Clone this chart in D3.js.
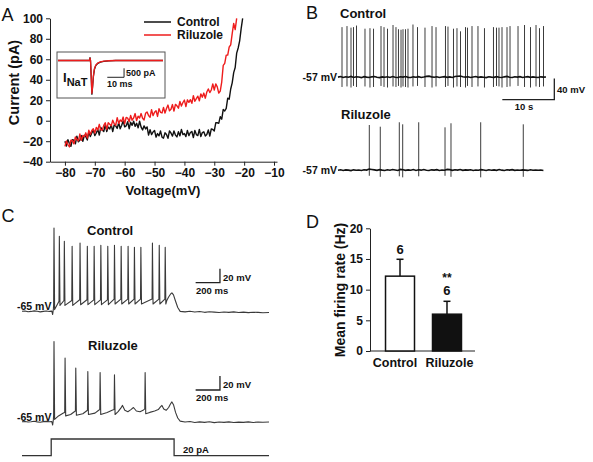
<!DOCTYPE html>
<html><head><meta charset="utf-8">
<script src="https://cdn.jsdelivr.net/npm/d3@7"></script>
<style>
html,body{margin:0;padding:0;background:#fff;}
svg{display:block;}
</style></head><body>
<svg id="fig" width="593" height="462"></svg>
<script>
// ================= Panel A : I-V ramp currents =================
const ivVoltage = [-80,-79.5,-79,-78.5,-78,-77.5,-77,-76.5,-76,-75.5,-75,-74.5,-74,-73.5,-73,-72.5,-72,-71.5,-71,-70.5,
-70,-69.5,-69,-68.5,-68,-67.5,-67,-66.5,-66,-65.5,-65,-64.5,-64,-63.5,-63,-62.5,-62,-61.5,-61,-60.5,
-60,-59.5,-59,-58.5,-58,-57.5,-57,-56.5,-56,-55.5,-55,-54.5,-54,-53.5,-53,-52.5,-52,-51.5,-51,-50.5,
-50,-49.5,-49,-48.5,-48,-47.5,-47,-46.5,-46,-45.5,-45,-44.5,-44,-43.5,-43,-42.5,-42,-41.5,-41,-40.5,
-40,-39.5,-39,-38.5,-38,-37.5,-37,-36.5,-36,-35.5,-35,-34.5,-34,-33.5,-33,-32.5,-32,-31.5,-31,-30.5,
-30,-29.5,-29,-28.5,-28,-27.5,-27,-26.5,-26,-25.5,-25,-24.5,-24,-23.5,-23,-22.5,-22,-21.5,-21,-20.5];
const ivControl = [-20,-24.8,-18.5,-22.2,-25,-18.5,-19,-22.5,-15,-20.5,
-19,-14.5,-20,-14.2,-15.5,-18.8,-11,-15.5,-12,-9.2,
-14.5,-12,-8.5,-14,-6.5,-9,-10.5,-4,-10.5,-6.2,
-8,-3.8,-10.5,-4.2,-5,-7.5,-2,-7.8,-4.5,-0.2,
-6,-5,-1,-7.8,-1.5,-4.5,-0.5,-5.5,-2.5,-7,
-0.5,-6.2,-9,-5,-8,-6,-14,-8.8,-13.5,-11,
-9.5,-16,-12.5,-14.8,-10,-16,-17,-11.8,-13.5,-17.2,
-10,-12,-15,-10,-14,-15.8,-10.8,-14.8,-8.5,-13.5,
-12.5,-15.5,-9.5,-14.5,-11.5,-10.5,-16.5,-9.5,-13.5,-14.5,
-8.5,-15.5,-11.5,-10.8,-15,-13.5,-9,-15,-8,-8.5,
-10,-2,-2,-2.5,4,1.5,11,9.5,12,22,
21,31,37,47,52,66,71,78,90,100];
const ivRiluzole = [-25,-19.7,-23.2,-25.6,-19,-19.3,-22.6,-15.9,-18.2,-19.6,
-13,-19.2,-14.4,-15.6,-11.8,-17,-9.2,-13.4,-9.6,-7.8,
-12,-6.5,-9,-3.5,-8.8,-9.2,-4.6,-2,-8.5,-2,
-3.5,-5,0.5,-3,-4.5,3,-2.6,0.8,-0.8,3.6,
-3,3.3,2.6,-1.1,5.2,0.5,2.7,7,0.2,4.4,
2.6,7,2.4,0.8,7.2,8.6,5,3.4,10.8,5,
8.3,9.8,4.2,11.7,8.2,7.6,13,7.5,12,15.3,
9.6,11.2,15.8,9.4,16,14.6,12.2,18.8,14.4,17.8,
20.2,13.8,20.4,18,20.6,17,24.5,19,21.5,24,
19.5,26.2,23,27,22,28,31,27.5,30,36,
30,36,33,27,29,38,54,56,64,64,
72,74,85,95,89,100,null,null,null,null];
const ivXTicks = [-80,-70,-60,-50,-40,-30,-20,-10];
const ivYTicks = [-40,-20,0,20,40,60,80,100];
const ivSeries = ["Control","Riluzole"];
// inset: transient Na current
const insetTime = [0,18.6,18.9,19.2,19.6,20.0,20.4,20.9,21.5,22.3,23.5,25,27,30,34,62];
const insetControl = [0,0,180,0,-900,-1900,-1500,-900,-500,-280,-160,-90,-50,-20,0,0];
const insetRiluzole = [0,0,150,0,-850,-1850,-1450,-850,-460,-250,-140,-80,-40,-15,0,0];

// ================= Panel B : spontaneous firing =================
const bStep = 0.5; // s between baseline samples
const bControlBaseline = [-57.2,-56.1,-57.8,-56.6,-57.4,-55.9,-57.9,-56.5,-57.1,-58.2,
-56.4,-57.3,-57.9,-56.7,-56.1,-57.6,-58.1,-56.8,-57.4,-56.5,
-57.8,-56.2,-57.5,-58.0,-56.6,-57.2,-56.0,-57.7,-57.9,-56.7,
-57.4,-56.4,-57.8,-56.9,-55.8,-55.4,-56.7,-57.5,-56.5,-57.9,
-57.0,-56.3,-57.7,-56.8,-57.9,-56.1,-55.6,-55.2,-56.4,-57.3,
-56.5,-57.8,-57.0,-56.2,-57.6,-56.8,-57.5,-58.1,-56.5,-57.3,
-57.7,-56.3,-57.4,-58.0,-56.7,-55.9,-57.5,-57.9,-56.6,-57.2,
-56.3,-57.8,-57.0,-56.4,-57.6,-56.8,-57.4,-58.0,-56.7,-57.3,-57.1];
const bRiluzoleBaseline = [-57.4,-56.6,-57.9,-56.8,-57.3,-58.1,-56.7,-57.5,-56.9,-57.8,
-56.5,-57.2,-55.3,-55.9,-56.8,-57.6,-56.4,-57.3,-58.0,-56.6,
-57.5,-56.2,-57.1,-57.9,-55.9,-56.5,-57.7,-56.8,-57.4,-56.1,
-57.8,-56.6,-57.3,-56.0,-57.5,-58.0,-56.7,-57.2,-56.4,-57.9,
-56.9,-57.4,-55.8,-56.3,-57.6,-56.5,-57.2,-56.0,-57.7,-56.8,
-57.3,-56.6,-57.9,-56.9,-57.5,-56.3,-57.1,-57.8,-56.5,-57.4,
-56.8,-57.6,-56.2,-57.3,-57.9,-56.6,-57.2,-56.4,-57.7,-56.9,
-57.5,-56.7,-57.3,-57.8,-56.5,-57.4,-56.9,-57.6,-57.1,-57.8];
const bControlSpikeTimes = [0.77,1.73,2.50,2.98,3.56,5.19,6.15,6.83,8.27,8.85,9.52,10.58,11.15,11.63,12.12,12.50,12.98,13.46,14.42,15.29,16.73,18.08,18.85,20.67,21.15,22.21,22.88,23.56,24.52,24.90,25.77,26.92,28.17,29.90,30.48,30.96,31.54,32.50,33.08,34.62,35.87,37.02,38.08,38.75,39.52];
const bControlSpikePeaks = [38,40,37,38,41,35,36,35,40,38,35,42,38,34,33,34,34,35,43,38,37,40,38,40,39,35,36,30,38,37,40,40,36,38,37,37,38,38,40,40,42,38,42,36,40];
const bControlSpikeTroughs = [-76,-75,-77,-74,-76,-75,-77,-76,-74,-76,-77,-75,-76,-74,-77,-75,-76,-77,-75,-74,-76,-77,-75,-76,-74,-77,-75,-76,-77,-74,-76,-75,-77,-76,-74,-75,-77,-76,-75,-74,-76,-77,-75,-76,-75];
const bRiluzoleSpikeTimes = [6.02,8.13,11.79,12.44,15.52,20.58,21.73,27.44,35.63];
const bRiluzoleSpikePeaks = [28.7,25.5,33.9,30,33.9,24.3,32,33.9,30];
const bRiluzoleSpikeTroughs = [-68,-70,-69,-71,-69,-68,-70,-71,-70];

// ================= Panel C : evoked firing (20 pA step) =================
const cCtrlRestT = [0,25,50,75,100,125,150,175,200,225,245,252,258,1190,1205,1220,1232,1245,1260,1280,1300,1340,1380,1420,1460,1500,1540,1580,1620,1660,1700,1740,1780,1820,1860,1900,1940,1980,2030];
const cCtrlRestV = [-65.4,-65.0,-66.1,-65.6,-64.8,-65.3,-66.2,-65.5,-64.9,-65.6,-65.2,-70,-62,-50,-45,-41,-39,-42,-50,-60,-65.5,-66.2,-65.4,-66.5,-65.8,-66.9,-66.1,-66.6,-67.2,-66.4,-66.9,-66.2,-67.1,-66.6,-67.3,-66.8,-67.0,-67.4,-67.1];
const cCtrlSpikeT = [263,307,348,412,477,537,593,648,705,760,815,872,924,977,1072,1128,1177];
const cCtrlSpikePeak = [53.6,41.7,34.6,27.4,32,27.4,27.4,28.9,27.4,28.9,27.4,27.4,26,26,32,28.9,26];
const cCtrlSpikeThr = [-56,-51,-50,-50,-49,-49,-49,-49,-49,-48,-48,-48,-48,-48,-48,-48,-48];
const cCtrlSpikeAhp = [-63,-57,-57,-57,-56,-56,-56,-56,-56,-55,-55,-55,-55,-55,-55,-55,-55];
const cRilRestT = [0,25,50,75,100,125,150,175,200,225,245,252,258,300,340,400,430,500,530,600,630,700,740,790,812,826,845,870,895,916,940,970,995,1050,1090,1120,1138,1150,1165,1185,1205,1220,1232,1245,1262,1280,1300,1340,1380,1420,1460,1500,1540,1580,1620,1660,1700,1740,1780,1820,1860,1900,1940,1980,2030];
const cRilRestV = [-65.3,-64.9,-65.8,-65.4,-64.7,-65.5,-66.0,-65.2,-64.8,-65.4,-65.1,-70,-62,-57,-53,-55,-51,-54,-50,-53,-49,-52,-49,-51,-46,-42,-49,-51,-48,-45,-50,-51,-49,-52,-50,-48,-44,-42,-47,-49,-45,-40,-37,-41,-52,-60,-64.5,-65.8,-65.1,-66.4,-65.5,-66.2,-65.3,-66.6,-65.7,-66.3,-65.6,-66.5,-65.9,-66.2,-65.5,-66.4,-65.8,-66.1,-65.7];
const cRilSpikeT = [263,354,442,541,642,760,1012];
const cRilSpikePeak = [49.3,25.6,11.3,6.4,5,1.7,5];
const cRilSpikeThr = [-56,-52,-50,-49,-48,-48,-47];
const cRilSpikeAhp = [-62,-57,-56,-55,-55,-55,-54];
const cStepT = [0,240,240,1250,1250,2030];
const cStepI = [0,0,20,20,0,0];

// ================= Panel D : mean firing rate =================
const dCategories = ["Control","Riluzole"];
const dMeans = [12.2, 6.0];
const dErrors = [2.75, 2.1];
const dN = ["6","6"];
const dSig = ["","**"];
const dYTicks = [0,5,10,15,20];

// ------------------------------------------------------------
const FONT = '"Liberation Sans", Arial, Helvetica, sans-serif';
const svg = d3.select("#fig").attr("font-family", FONT);
function label(g, x, y, s, size, opts = {}) {
  return g.append("text").attr("x", x).attr("y", y).text(s)
    .attr("font-size", size).attr("font-weight", opts.weight || "bold")
    .attr("text-anchor", opts.anchor || "start").attr("fill", opts.fill || "#111");
}
function styleAxis(ax, size) {
  ax.select(".domain").attr("stroke", "#222").attr("stroke-width", 1);
  ax.selectAll(".tick line").attr("stroke", "#222");
  ax.selectAll(".tick text").attr("font-size", size).attr("font-weight", "bold")
    .attr("font-family", FONT).attr("fill", "#111");
}

// ---------- Panel A ----------
const gA = svg.append("g");
label(gA, 1.5, 20.7, "A", 18, {weight: "normal"});
const xA = d3.scaleLinear().domain([-85, -9]).range([50, 277]);
const yA = d3.scaleLinear().domain([-40, 100]).range([161.7, 18.3]);
const axAx = gA.append("g").attr("transform", `translate(0,${yA(-40)})`)
  .call(d3.axisBottom(xA).tickValues(ivXTicks).tickSize(4).tickPadding(3).tickSizeOuter(0));
styleAxis(axAx, 12);
const axAy = gA.append("g").attr("transform", `translate(${xA.range()[0]},0)`)
  .call(d3.axisLeft(yA).tickValues(ivYTicks).tickSize(4).tickPadding(3).tickSizeOuter(0));
styleAxis(axAy, 12);
label(gA, 163, 195, "Voltage(mV)", 13, {anchor: "middle"});
label(gA, 0, 0, "Current (pA)", 14.5, {anchor: "middle"}).attr("transform", "translate(18.5,82.5) rotate(-90)");
const lineA = d3.line().defined(d => d[1] != null).x(d => xA(d[0])).y(d => yA(d[1]));
const ivColors = ["#111", "#ee1c1c"];
[ivControl, ivRiluzole].forEach((vals, k) => {
  gA.append("path").datum(ivVoltage.map((v, i) => [v, vals[i]]))
    .attr("d", lineA).attr("fill", "none").attr("stroke", ivColors[k])
    .attr("stroke-width", 1.4).attr("stroke-linejoin", "round");
});
// legend
ivSeries.forEach((s, k) => {
  const y = 22 + k * 13;
  gA.append("line").attr("x1", 144).attr("x2", 171).attr("y1", y).attr("y2", y)
    .attr("stroke", ivColors[k]).attr("stroke-width", 1.5);
  label(gA, 177, y + 4.3, s, 12);
});
// inset
gA.append("rect").attr("x", 57).attr("y", 52).attr("width", 108).attr("height", 46)
  .attr("fill", "#fff").attr("stroke", "#555").attr("stroke-width", 1);
const xIn = d3.scaleLinear().domain([0, 62]).range([58, 163]);
const yIn = d3.scaleLinear().domain([-2000, 0]).range([60.5 + 36, 60.5]);
const lineIn = d3.line().x(d => xIn(d[0])).y(d => yIn(d[1]));
[insetControl, insetRiluzole].forEach((vals, k) => {
  gA.append("path").datum(insetTime.map((t, i) => [t, vals[i]]))
    .attr("d", lineIn).attr("fill", "none").attr("stroke", ivColors[k]).attr("stroke-width", 1.3);
});
gA.append("path").attr("d", `M${xIn(29.1)},${yIn(-933)}H${xIn(39)}V${yIn(-433)}`)
  .attr("fill", "none").attr("stroke", "#222").attr("stroke-width", 1);
label(gA, 126, 76, "500 pA", 9);
label(gA, 107, 86.5, "10 ms", 9);
const tI = label(gA, 63, 81.5, "I", 13);
tI.append("tspan").attr("dy", 4).attr("font-size", 11).text("NaT");

// ---------- Panel B ----------
const gB = svg.append("g");
label(gB, 306, 18.5, "B", 18, {weight: "normal"});
const xB = d3.scaleLinear().domain([0, 40]).range([338, 546]);
const yBc = d3.scaleLinear().domain([-57, 43]).range([77, 24.5]);
const yBr = d3.scaleLinear().domain([-57, 43]).range([170, 117.5]);
function drawB(baseline, times, peaks, troughs, yS) {
  gB.append("g").selectAll("line").data(times).join("line")
    .attr("x1", d => xB(d)).attr("x2", d => xB(d))
    .attr("y1", (d, i) => yS(peaks[i])).attr("y2", (d, i) => yS(troughs[i]))
    .attr("stroke", "#3c3c3c").attr("stroke-width", 1);
  gB.append("path").datum(baseline.map((v, i) => [i * bStep, v]))
    .attr("d", d3.line().x(d => xB(d[0])).y(d => yS(d[1])))
    .attr("fill", "none").attr("stroke", "#111").attr("stroke-width", 1.6);
}
drawB(bControlBaseline, bControlSpikeTimes, bControlSpikePeaks, bControlSpikeTroughs, yBc);
drawB(bRiluzoleBaseline, bRiluzoleSpikeTimes, bRiluzoleSpikePeaks, bRiluzoleSpikeTroughs, yBr);
label(gB, 340, 18.3, "Control", 13);
label(gB, 341, 118.5, "Riluzole", 13);
label(gB, 337, yBc(-57) + 3.7, "-57 mV", 10.5, {anchor: "end"});
label(gB, 337, yBr(-57) + 3.7, "-57 mV", 10.5, {anchor: "end"});
gB.append("path").attr("d", `M${xB(31.6)},${yBc(-100)}H${xB(41.6)}V${yBc(-60)}`)
  .attr("fill", "none").attr("stroke", "#222").attr("stroke-width", 1.3);
label(gB, 557, 92.7, "40 mV", 9.5);
label(gB, 524, 110, "10 s", 9.5, {anchor: "middle"});

// ---------- Panel C ----------
const gC = svg.append("g");
label(gC, 1.5, 222, "C", 18, {weight: "normal"});
const xC = d3.scaleLinear().domain([0, 2030]).range([22, 269]);
const yCc = d3.scaleLinear().domain([-65, 55]).range([311, 227]);
const yCr = d3.scaleLinear().domain([-65, 55]).range([421.5, 337.5]);
const yI = d3.scaleLinear().domain([0, 20]).range([455.7, 439]);
function buildC(restT, restV, sT, sPk, sThr, sAhp) {
  const pts = restT.map((t, i) => [t, restV[i]]);
  sT.forEach((t, i) => { pts.push([t - 3, sThr[i]], [t, sPk[i]], [t + 5, sAhp[i]]); });
  return pts.sort((a, b) => a[0] - b[0]);
}
function drawC(pts, yS) {
  gC.append("path").datum(pts)
    .attr("d", d3.line().x(d => xC(d[0])).y(d => yS(d[1])))
    .attr("fill", "none").attr("stroke", "#3a3a3a").attr("stroke-width", 1.1).attr("stroke-linejoin", "round");
}
drawC(buildC(cCtrlRestT, cCtrlRestV, cCtrlSpikeT, cCtrlSpikePeak, cCtrlSpikeThr, cCtrlSpikeAhp), yCc);
drawC(buildC(cRilRestT, cRilRestV, cRilSpikeT, cRilSpikePeak, cRilSpikeThr, cRilSpikeAhp), yCr);
gC.append("path").datum(cStepT.map((t, i) => [t, cStepI[i]]))
  .attr("d", d3.line().x(d => xC(d[0])).y(d => yI(d[1])))
  .attr("fill", "none").attr("stroke", "#333").attr("stroke-width", 1.3);
label(gC, 87, 235, "Control", 13);
label(gC, 88, 350, "Riluzole", 13);
label(gC, 17, 309.5, "-65 mV", 10.5);
label(gC, 17, 421, "-65 mV", 10.5);
[[yCc, -24.6], [yCr, -20]].forEach(([yS, v0]) => {
  gC.append("path").attr("d", `M${xC(1427)},${yS(v0)}H${xC(1627)}V${yS(v0 + 20)}`)
    .attr("fill", "none").attr("stroke", "#222").attr("stroke-width", 1.3);
  label(gC, 223, yS(v0) - 1.7, "20 mV", 9.5);
  label(gC, 196, yS(v0) + 11, "200 ms", 9.5);
});
label(gC, 183, 453, "20 pA", 9.5);

// ---------- Panel D ----------
const gD = svg.append("g");
label(gD, 306, 228, "D", 18, {weight: "normal"});
const yD = d3.scaleLinear().domain([0, 20]).range([351, 228.3]);
const xD = d3.scaleBand().domain(dCategories).range([371, 476]).paddingInner(0.383).paddingOuter(0.309);
const axDy = gD.append("g").attr("transform", "translate(370,0)")
  .call(d3.axisLeft(yD).tickValues(dYTicks).tickSize(4).tickPadding(3).tickSizeOuter(0));
styleAxis(axDy, 12);
gD.append("line").attr("x1", 370).attr("x2", 475).attr("y1", yD(0)).attr("y2", yD(0))
  .attr("stroke", "#222").attr("stroke-width", 1);
dCategories.forEach((c, i) => {
  const cx = xD(c) + xD.bandwidth() / 2;
  gD.append("line").attr("x1", cx).attr("x2", cx).attr("y1", yD(dMeans[i])).attr("y2", yD(dMeans[i] + dErrors[i]))
    .attr("stroke", "#111").attr("stroke-width", 1.5);
  gD.append("line").attr("x1", cx - 3.5).attr("x2", cx + 3.5)
    .attr("y1", yD(dMeans[i] + dErrors[i])).attr("y2", yD(dMeans[i] + dErrors[i]))
    .attr("stroke", "#111").attr("stroke-width", 1.5);
  gD.append("rect").attr("x", xD(c)).attr("width", xD.bandwidth())
    .attr("y", yD(dMeans[i])).attr("height", yD(0) - yD(dMeans[i]))
    .attr("fill", i === 0 ? "#fff" : "#111").attr("stroke", "#111").attr("stroke-width", 1.5);
  const topY = yD(dMeans[i] + dErrors[i]);
  label(gD, cx, topY - (i === 0 ? 5 : 6), dN[i], 13, {anchor: "middle"});
  if (dSig[i]) label(gD, cx, topY - 19.5, dSig[i], 12, {anchor: "middle"});
  label(gD, cx - (i === 0 ? 5 : -2.5), 366.5, c, 12.5, {anchor: "middle"});
});
label(gD, 0, 0, "Mean firing rate (Hz)", 14, {anchor: "middle"}).attr("transform", "translate(345,290) rotate(-90)");
</script>
</body></html>
